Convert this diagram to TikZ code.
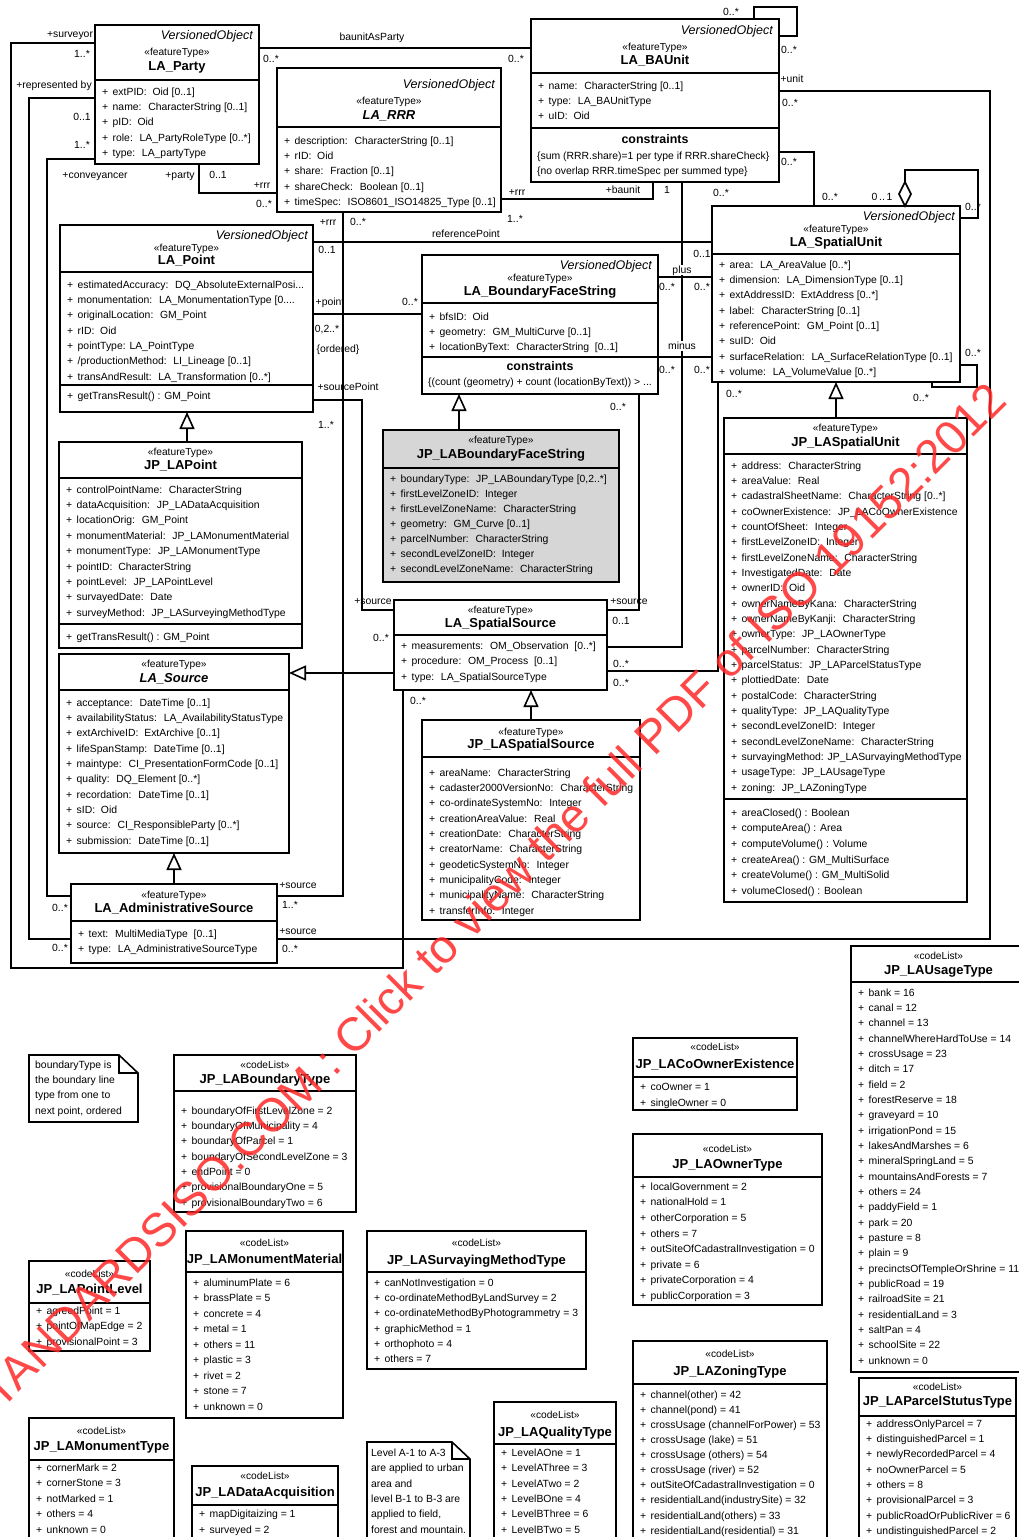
\documentclass[tikz,border=0pt]{standalone}
\usepackage{fontspec}
\setmainfont{Liberation Sans}
\usetikzlibrary{arrows.meta}
\definecolor{gfill}{RGB}{214,214,214}
\definecolor{wm}{RGB}{255,40,40}
\tikzset{
  cls/.style={draw=black, line width=1.6pt, inner sep=0pt, outer sep=0pt, anchor=north west},
  dv/.style={line width=1.6pt},
  conn/.style={line width=1.6pt},
  gen/.style={line width=1.6pt, -{Triangle[open, length=17pt, width=15pt, line width=1.6pt]}},
  att/.style={anchor=west, inner sep=0pt, font=\fontsize{10.4}{12}\selectfont, text height=8.5pt, text depth=2pt},
  ster/.style={inner sep=0pt, font=\fontsize{10.2}{12}\selectfont, text height=8.5pt, text depth=2pt},
  cname/.style={inner sep=0pt, font=\fontsize{13}{15}\selectfont\bfseries, text height=10pt, text depth=2.5pt},
  vo/.style={anchor=east, inner sep=0pt, font=\fontsize{12.5}{15}\selectfont\itshape, text height=9.5pt, text depth=2.5pt},
  cons/.style={inner sep=0pt, font=\fontsize{12.4}{15}\selectfont\bfseries, text height=9.5pt, text depth=2.5pt},
  lbl/.style={inner sep=0pt, font=\fontsize{10.4}{12}\selectfont, text height=8.5pt, text depth=2pt},
  wlbl/.style={lbl, fill=white, inner xsep=1pt},
}
\newcommand{\ubox}[6]{\node[cls,fill=#6,minimum width=#4pt,minimum height=#5pt] (#1) at (#2,#3) {};}
\newcommand{\udiv}[2]{\draw[dv] (#1.west |- 0,#2) -- (#1.east |- 0,#2);}
\newcommand{\uatts}[5]{\foreach \t [count=\i from 0] in {#5} {\node[att] (#1\i) at (#2,{#3+\i*#4}) {\makebox[10.5pt][l]{+}\t};}}
\newcommand{\uhead}[5]{\node[ster] (#1-st) at (#1.north |- 0,#3) {«#2»};
  \node[cname] (#1-nm) at (#1.north |- 0,#4) {#5};}
\begin{document}
\begin{tikzpicture}[x=1pt,y=-1pt]
\useasboundingbox (0,0) rectangle (1018,1537);
\fill[white] (0,0) rectangle (1018,1537);

% ================= classes =================
% LA_Party
\ubox{party}{95}{25}{164}{139}{white}
\udiv{party}{80}
\node[vo] (party-vo) at (253,36) {VersionedObject};
\uhead{party}{featureType}{52}{67}{LA\_Party}
\uatts{party-a}{102}{92}{15.3}{extPID:~ Oid [0..1], name:~ CharacterString [0..1], pID:~ Oid, role:~ LA\_PartyRoleType [0..*], type:~ LA\_partyType}

% LA_RRR
\ubox{rrr}{277}{68}{224}{144}{white}
\udiv{rrr}{127}
\node[vo] (rrr-vo) at (495,85) {VersionedObject};
\uhead{rrr}{featureType}{101}{116}{\itshape LA\_RRR}
\uatts{rrr-a}{284}{141}{15.3}{description:~ CharacterString [0..1], rID:~ Oid, share:~ Fraction [0..1], shareCheck:~ Boolean [0..1], timeSpec:~ ISO8601\_ISO14825\_Type [0..1]}

% LA_BAUnit
\ubox{baunit}{531}{19}{248}{163}{white}
\udiv{baunit}{73}
\udiv{baunit}{128}
\node[vo] (baunit-vo) at (773,31) {VersionedObject};
\uhead{baunit}{featureType}{47}{61}{LA\_BAUnit}
\uatts{baunit-a}{538}{86}{15.3}{name:~ CharacterString [0..1], type:~ LA\_BAUnitType, uID:~ Oid}
\node[cons] (baunit-c) at (baunit.north |- 0,140) {constraints};
\node[att] (baunit-c1) at (537,156) {\{sum (RRR.share)=1 per type if RRR.shareCheck\}};
\node[att] (baunit-c2) at (537,171) {\{no overlap RRR.timeSpec per summed type\}};

% LA_Point
\ubox{point}{60}{225}{253}{187}{white}
\udiv{point}{272}
\udiv{point}{385}
\node[vo] (point-vo) at (308,236) {VersionedObject};
\uhead{point}{featureType}{248}{261}{LA\_Point}
\uatts{point-a}{67}{285}{15.3}{estimatedAccuracy:~ DQ\_AbsoluteExternalPosi.{}.{}., monumentation:~ LA\_MonumentationType [0.{}.{}.{}., originalLocation:~ GM\_Point, rID:~ Oid, pointType: LA\_PointType, {{/}productionMethod:~ LI\_Lineage [0..1]}, transAndResult:~ LA\_Transformation [0..*]}
\uatts{point-o}{67}{396}{15.3}{getTransResult() : GM\_Point}

% LA_BoundaryFaceString
\ubox{bfs}{422}{255}{236}{139}{white}
\udiv{bfs}{303}
\udiv{bfs}{357}
\node[vo] (bfs-vo) at (652,266) {VersionedObject};
\uhead{bfs}{featureType}{278}{292}{LA\_BoundaryFaceString}
\uatts{bfs-a}{429}{317}{15}{bfsID:~ Oid, geometry:~ GM\_MultiCurve [0..1], locationByText:~ CharacterString~ [0..1]}
\node[cons] (bfs-c) at (bfs.north |- 0,367) {constraints};
\node[att] (bfs-c1) at (428,382) {\{(count (geometry) + count (locationByText)) > ...};

% LA_SpatialUnit
\ubox{su}{712}{206}{248}{176}{white}
\udiv{su}{254}
\node[vo] (su-vo) at (955,217) {VersionedObject};
\uhead{su}{featureType}{229}{243}{LA\_SpatialUnit}
\uatts{su-a}{719}{265}{15.3}{area:~ LA\_AreaValue [0..*], dimension:~ LA\_DimensionType [0..1], extAddressID:~ ExtAddress [0..*], label:~ CharacterString [0..1], referencePoint:~ GM\_Point [0..1], suID:~ Oid, surfaceRelation:~ LA\_SurfaceRelationType [0..1], volume:~ LA\_VolumeValue [0..*]}

% JP_LABoundaryFaceString
\ubox{jpbfs}{383}{430}{236}{152}{gfill}
\udiv{jpbfs}{468}
\uhead{jpbfs}{featureType}{440}{455}{JP\_LABoundaryFaceString}
\uatts{jpbfs-a}{390}{479}{15}{{boundaryType:~ JP\_LABoundaryType [0,2..*]}, firstLevelZoneID:~ Integer, firstLevelZoneName:~ CharacterString, geometry:~ GM\_Curve [0..1], parcelNumber:~ CharacterString, secondLevelZoneID:~ Integer, secondLevelZoneName:~ CharacterString}

% JP_LAPoint
\ubox{jppoint}{59}{442}{243}{206}{white}
\udiv{jppoint}{478}
\udiv{jppoint}{624}
\uhead{jppoint}{featureType}{452}{466}{JP\_LAPoint}
\uatts{jppoint-a}{66}{490}{15.35}{controlPointName:~ CharacterString, dataAcquisition:~ JP\_LADataAcquisition, locationOrig:~ GM\_Point, monumentMaterial:~ JP\_LAMonumentMaterial, monumentType:~ JP\_LAMonumentType, pointID:~ CharacterString, pointLevel:~ JP\_LAPointLevel, survayedDate:~ Date, surveyMethod:~ JP\_LASurveyingMethodType}
\uatts{jppoint-o}{66}{637}{15}{getTransResult() : GM\_Point}

% LA_Source
\ubox{source}{59}{654}{230}{199}{white}
\udiv{source}{690}
\uhead{source}{featureType}{664}{679}{\itshape LA\_Source}
\uatts{source-a}{66}{703}{15.33}{acceptance:~ DateTime [0..1], availabilityStatus:~ LA\_AvailabilityStatusType, extArchiveID:~ ExtArchive [0..1], lifeSpanStamp:~ DateTime [0..1], maintype:~ CI\_PresentationFormCode [0..1], quality:~ DQ\_Element [0..*], recordation:~ DateTime [0..1], sID:~ Oid, source:~ CI\_ResponsibleParty [0..*], submission:~ DateTime [0..1]}

% LA_SpatialSource
\ubox{ss}{394}{600}{213}{90}{white}
\udiv{ss}{635}
\uhead{ss}{featureType}{610}{624}{LA\_SpatialSource}
\uatts{ss-a}{401}{646}{15.5}{measurements:~ OM\_Observation~ [0..*], procedure:~ OM\_Process~ [0..1], type:~ LA\_SpatialSourceType}

% LA_AdministrativeSource
\ubox{admin}{71}{884}{206}{79}{white}
\udiv{admin}{921}
\uhead{admin}{featureType}{895}{909}{LA\_AdministrativeSource}
\uatts{admin-a}{78}{934}{15}{text:~ MultiMediaType~ [0..1], type:~ LA\_AdministrativeSourceType}

% JP_LASpatialSource
\ubox{jpss}{422}{720}{218}{200}{white}
\udiv{jpss}{757}
\uhead{jpss}{featureType}{732}{745}{JP\_LASpatialSource}
\uatts{jpss-a}{429}{773}{15.33}{areaName:~ CharacterString, cadaster2000VersionNo:~ CharacterString, co-ordinateSystemNo:~ Integer, creationAreaValue:~ Real, creationDate:~ CharacterString, creatorName:~ CharacterString, geodeticSystemNo:~ Integer, municipalityCode:~ Integer, municipalityName:~ CharacterString, transferInfo:~ Integer}

% JP_LASpatialUnit
\ubox{jpsu}{724}{418}{243}{484}{white}
\udiv{jpsu}{454}
\udiv{jpsu}{799}
\uhead{jpsu}{featureType}{428}{443}{JP\_LASpatialUnit}
\uatts{jpsu-a}{731}{466}{15.33}{address:~ CharacterString, areaValue:~ Real, cadastralSheetName:~ CharacterString [0..*], coOwnerExistence:~ JP\_LACoOwnerExistence, countOfSheet:~ Integer, firstLevelZoneID:~ Integer, firstLevelZoneName:~ CharacterString, InvestigatedDate:~ Date, ownerID:~ Oid, ownerNameByKana:~ CharacterString, ownerNameByKanji:~ CharacterString, ownerType:~ JP\_LAOwnerType, parcelNumber:~ CharacterString, parcelStatus:~ JP\_LAParcelStatusType, plottiedDate:~ Date, postalCode:~ CharacterString, qualityType:~ JP\_LAQualityType, secondLevelZoneID:~ Integer, secondLevelZoneName:~ CharacterString, survayingMethod: JP\_LASurvayingMethodType, usageType:~ JP\_LAUsageType, zoning:~ JP\_LAZoningType}
\uatts{jpsu-o}{731}{813}{15.6}{areaClosed() : Boolean, computeArea() : Area, computeVolume() : Volume, createArea() : GM\_MultiSurface, createVolume() : GM\_MultiSolid, volumeClosed() : Boolean}

% ================= code lists =================
\ubox{bt}{174}{1055}{182}{157}{white}
\udiv{bt}{1091}
\uhead{bt}{codeList}{1065}{1080}{JP\_LABoundaryType}
\uatts{bt-a}{181}{1111}{15.3}{boundaryOfFirstLevelZone = 2, boundaryOfMunicipality = 4, boundaryOfParcel = 1, boundaryOfSecondLevelZone = 3, endPoint = 0, provisionalBoundaryOne = 5, provisionalBoundaryTwo = 6}

\ubox{pl}{29}{1261}{121}{90}{white}
\udiv{pl}{1303}
\uhead{pl}{codeList}{1274}{1290}{JP\_LAPointLevel}
\uatts{pl-a}{36}{1311}{15.5}{agreedPoint = 1, pointOfMapEdge = 2, provisionalPoint = 3}

\ubox{mm}{186}{1231}{157}{187}{white}
\udiv{mm}{1272}
\uhead{mm}{codeList}{1243}{1260}{JP\_LAMonumentMaterial}
\uatts{mm-a}{193}{1283}{15.5}{aluminumPlate = 6, brassPlate = 5, concrete = 4, metal = 1, others = 11, plastic = 3, rivet = 2, stone = 7, unknown = 0}

\ubox{mt}{29}{1418}{145}{140}{white}
\udiv{mt}{1460}
\uhead{mt}{codeList}{1431}{1447}{JP\_LAMonumentType}
\uatts{mt-a}{36}{1468}{15.5}{cornerMark = 2, cornerStone = 3, notMarked = 1, others = 4, unknown = 0}

\ubox{da}{192}{1466}{146}{90}{white}
\udiv{da}{1505}
\uhead{da}{codeList}{1476}{1493}{JP\_LADataAcquisition}
\uatts{da-a}{199}{1514}{16}{mapDigitaizing = 1, surveyed = 2}

\ubox{sm}{367}{1231}{219}{138}{white}
\udiv{sm}{1272}
\uhead{sm}{codeList}{1243}{1261}{JP\_LASurvayingMethodType}
\uatts{sm-a}{374}{1283}{15.3}{canNotInvestigation = 0, co-ordinateMethodByLandSurvey = 2, co-ordinateMethodByPhotogrammetry = 3, graphicMethod = 1, orthophoto = 4, others = 7}

\ubox{qt}{494}{1402}{122}{150}{white}
\udiv{qt}{1444}
\uhead{qt}{codeList}{1415}{1433}{JP\_LAQualityType}
\uatts{qt-a}{501}{1453}{15.4}{LevelAOne = 1, LevelAThree = 3, LevelATwo = 2, LevelBOne = 4, LevelBThree = 6, LevelBTwo = 5}

\ubox{co}{633}{1038}{164}{72}{white}
\udiv{co}{1077}
\uhead{co}{codeList}{1047}{1065}{JP\_LACoOwnerExistence}
\uatts{co-a}{640}{1087}{16}{coOwner = 1, singleOwner = 0}

\ubox{ot}{633}{1134}{189}{171}{white}
\udiv{ot}{1177}
\uhead{ot}{codeList}{1149}{1165}{JP\_LAOwnerType}
\uatts{ot-a}{640}{1187}{15.6}{localGovernment = 2, nationalHold = 1, otherCorporation = 5, others = 7, outSiteOfCadastralInvestigation = 0, private = 6, privateCorporation = 4, publicCorporation = 3}

\ubox{zt}{633}{1341}{194}{210}{white}
\udiv{zt}{1384}
\uhead{zt}{codeList}{1354}{1372}{JP\_LAZoningType}
\uatts{zt-a}{640}{1395}{15.1}{channel(other) = 42, channel(pond) = 41, crossUsage (channelForPower) = 53, crossUsage (lake) = 51, crossUsage (others) = 54, crossUsage (river) = 52, outSiteOfCadastralInvestigation = 0, residentialLand(industrySite) = 32, residentialLand(others) = 33, residentialLand(residential) = 31}

\ubox{ut}{851}{946}{175}{426}{white}
\udiv{ut}{982}
\uhead{ut}{codeList}{956}{971}{JP\_LAUsageType}
\uatts{ut-a}{858}{993}{15.33}{bank = 16, canal = 12, channel = 13, channelWhereHardToUse = 14, crossUsage = 23, ditch = 17, field = 2, forestReserve = 18, graveyard = 10, irrigationPond = 15, lakesAndMarshes = 6, mineralSpringLand = 5, mountainsAndForests = 7, others = 24, paddyField = 1, park = 20, pasture = 8, plain = 9, precinctsOfTempleOrShrine = 11, publicRoad = 19, railroadSite = 21, residentialLand = 3, saltPan = 4, schoolSite = 22, unknown = 0}

\ubox{ps}{859}{1378}{157}{175}{white}
\udiv{ps}{1416}
\uhead{ps}{codeList}{1387}{1402}{JP\_LAParcelStutusType}
\uatts{ps-a}{866}{1424}{15.3}{addressOnlyParcel = 7, distinguishedParcel = 1, newlyRecordedParcel = 4, noOwnerParcel = 5, others = 8, provisionalParcel = 3, publicRoadOrPublicRiver = 6, undistinguishedParcel = 2}

% notes
\draw[conn, fill=white] (29,1055) -- (119,1055) -- (138,1073) -- (138,1122) -- (29,1122) -- cycle;
\draw[conn] (119,1055) -- (119,1073) -- (138,1073);
\foreach \t [count=\i from 0] in {boundaryType is, the boundary line, type from one to, {next point, ordered}} {\node[att] (n1-\i) at (35,{1065+\i*15.3}) {\t};}
\draw[conn, fill=white] (367,1560) -- (367,1442) -- (452,1442) -- (470,1459) -- (470,1560);
\draw[conn] (452,1442) -- (452,1459) -- (470,1459);
\foreach \t [count=\i from 0] in {Level A-1 to A-3, are applied to urban, area and, level B-1 to B-3 are, {applied to field,}, forest and mountain.} {\node[att] (n2-\i) at (371,{1453+\i*15.4}) {\t};}

% ================= connectors =================
\draw[conn] (party.west |- 0,43) -| (11,968) -| (ss.south -| 403,0);
\draw[conn] (party.west |- 0,98) -| (29,939) -- (admin.west |- 0,939);
\draw[conn] (party.west |- 0,159) -| (47,896) -- (admin.west |- 0,896);
\draw[conn] (party.south -| 199,0) |- (rrr.west |- 0,193);
\draw[conn] (party.east |- 0,48) -- (baunit.west |- 0,48);
\draw[conn] (rrr.east |- 0,199) -| (baunit.south -| 653,0);
\draw[conn] (baunit.north -| 754,0) |- (797,7) |- (baunit.east |- 0,36);
\draw[conn] (baunit.east |- 0,91) -| (990,939) -- (admin.east |- 0,939);
\draw[conn] (baunit.east |- 0,152) -| (su.north -| 814,0);
\draw[conn] (baunit.south -| 682,0) |- (ss.east |- 0,647);
\draw[conn] (su.south -| 718,0) |- (ss.east |- 0,671);
\draw[conn] (point.east |- 0,242) -- (su.west |- 0,242);
\draw[conn] (rrr.south -| 343,0) |- (admin.east |- 0,896);
\draw[conn] (point.east |- 0,314) -- (bfs.west |- 0,314);
\draw[conn] (point.east |- 0,400) -| (362,610) -- (ss.west |- 0,610);
\draw[conn] (bfs.south -| 639,0) |- (ss.east |- 0,610);
\draw[conn] (bfs.east |- 0,277) -- (su.west |- 0,277);
\draw[conn] (bfs.east |- 0,357) -- (su.west |- 0,357);
\draw[conn] (905,182) |- (978,170) |- (su.east |- 0,218);
\draw[conn, fill=white] (su.north -| 905,0) -- ++(6,-12) -- ++(-6,-12) -- ++(-6,12) -- cycle;
\draw[conn] (su.east |- 0,365) -| (977,387) -| (su.south -| 932,0);

% generalizations
\draw[gen] (jppoint.north -| 187,0) -- (point.south -| 187,0);
\draw[gen] (jpbfs.north -| 459,0) -- (bfs.south -| 459,0);
\draw[gen] (jpsu.north -| 836,0) -- (su.south -| 836,0);
\draw[gen] (ss.west |- 0,673) -- (source.east |- 0,673);
\draw[gen] (admin.north -| 174,0) -- (source.south -| 174,0);
\draw[gen] (jpss.north -| 531,0) -- (ss.south -| 531,0);

% ================= labels =================
\node[lbl] (L1) at (70,34) {+surveyor};
\node[lbl] (L2) at (82,54) {1..*};
\node[lbl] (L3) at (54,85) {+represented by};
\node[lbl] (L4) at (82,117) {0..1};
\node[lbl] (L5) at (82,145) {1..*};
\node[lbl] (L6) at (95,175) {+conveyancer};
\node[lbl] (L7) at (180,175) {+party};
\node[lbl] (L8) at (218,175) {0..1};
\node[lbl] (L9) at (262,185) {+rrr};
\node[lbl] (L10) at (264,204) {0..*};
\node[lbl] (L11) at (372,37) {baunitAsParty};
\node[lbl] (L12) at (271,59) {0..*};
\node[lbl] (L13) at (516,59) {0..*};
\node[lbl] (L14) at (517,192) {+rrr};
\node[lbl] (L15) at (515,219) {1..*};
\node[lbl] (L16) at (623,190) {+baunit};
\node[lbl] (L17) at (667,190) {1};
\node[lbl] (L18) at (721,193) {0..*};
\node[lbl] (L19) at (731,12) {0..*};
\node[lbl] (L20) at (789,50) {0..*};
\node[lbl] (L21) at (792,79) {+unit};
\node[lbl] (L22) at (790,103) {0..*};
\node[lbl] (L23) at (789,162) {0..*};
\node[lbl] (L24) at (830,197) {0..*};
\node[lbl] (L25) at (882,197) {0\,..\,1};
\node[lbl] (L26) at (973,207) {0..*};
\node[lbl] (L27) at (973,353) {0..*};
\node[lbl] (L28) at (921,398) {0..*};
\node[lbl] (L29) at (734,394) {0..*};
\node[lbl] (L30) at (328,222) {+rrr};
\node[lbl] (L31) at (358,222) {0..*};
\node[lbl] (L32) at (466,234) {referencePoint};
\node[lbl] (L33) at (327,250) {0..1};
\node[lbl] (L34) at (702,254) {0..1};
\node[wlbl] (L35) at (682,270) {plus};
\node[lbl] (L36) at (667,287) {0..*};
\node[lbl] (L37) at (702,287) {0..*};
\node[wlbl] (L38) at (682,346) {minus};
\node[lbl] (L39) at (667,370) {0..*};
\node[lbl] (L40) at (702,370) {0..*};
\node[lbl] (L41) at (330,302) {+point};
\node[lbl] (L42) at (410,302) {0..*};
\node[lbl] (L43) at (327,329) {0,2..*};
\node[lbl] (L44) at (338,349) {\{ordered\}};
\node[lbl] (L45) at (348,387) {+sourcePoint};
\node[lbl] (L46) at (326,425) {1..*};
\node[lbl] (L47) at (618,407) {0..*};
\node[lbl] (L48) at (373,601) {+source};
\node[lbl] (L49) at (381,638) {0..*};
\node[lbl] (L50) at (629,601) {+source};
\node[lbl] (L51) at (621,621) {0..1};
\node[lbl] (L52) at (621,664) {0..*};
\node[lbl] (L53) at (621,683) {0..*};
\node[lbl] (L54) at (418,701) {0..*};
\node[lbl] (L55) at (298,885) {+source};
\node[lbl] (L56) at (290,905) {1..*};
\node[lbl] (L57) at (298,931) {+source};
\node[lbl] (L58) at (290,949) {0..*};
\node[lbl] (L59) at (60,908) {0..*};
\node[lbl] (L60) at (60,948) {0..*};

% watermark
\node[rotate=45, text=wm, opacity=0.85, inner sep=0pt, font=\fontsize{47}{47}\selectfont] (wmark) at (482,906) {STANDARDSISO.COM : Click to view the full PDF of ISO 19152:2012};
\end{tikzpicture}
\end{document}
